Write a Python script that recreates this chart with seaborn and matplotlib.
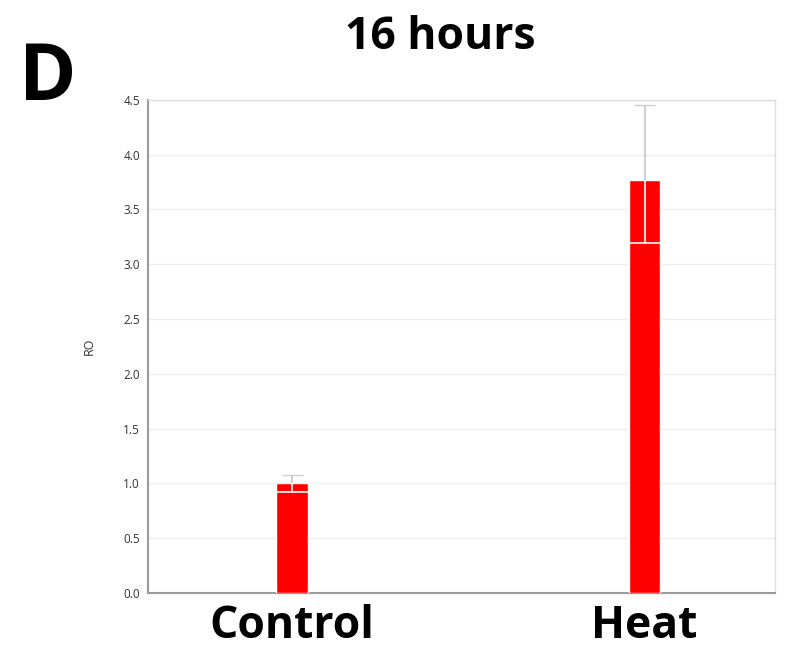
import numpy as np
import pandas as pd
import matplotlib
matplotlib.use("Agg")
import matplotlib.pyplot as plt
import seaborn as sns

# dados
grupos = ["Control", "Heat"]
valores = [1.0, 3.77]
erro_sup = [1.08, 4.45]
erro_inf = [0.92, 3.19]

sns.set_style("white")
plt.rcParams['font.family'] = ['Open Sans', 'DejaVu Sans']
plt.rcParams['text.color'] = 'black'

df = pd.DataFrame({"grupo": grupos, "RO": valores})

fig = plt.figure(figsize=(7.9, 6.52), dpi=100)
ax = fig.add_axes([0.187, 0.0905, 0.794, 0.7565])

sns.barplot(data=df, x="grupo", y="RO", color="#ff0000", saturation=1,
            width=0.09, errorbar=None, ax=ax, zorder=3)

# barras de erro: cinza acima da barra, branco dentro dela
for i, v in enumerate(valores):
    ax.vlines(i, v, erro_sup[i], color="#d0d0d0", lw=1.5, zorder=4)
    ax.hlines(erro_sup[i], i - 0.03, i + 0.03, color="#d0d0d0", lw=1, zorder=4)
    ax.vlines(i, erro_inf[i], v, color="white", lw=1.2, zorder=4)
    ax.hlines(erro_inf[i], i - 0.045, i + 0.045, color="white", lw=1.2, zorder=4)

ax.set_xlim(-0.41, 1.37)
ax.set_ylim(0, 4.5)
ax.set_yticks(np.arange(0, 4.51, 0.5))
ax.set_yticklabels([f"{t:.1f}" for t in np.arange(0, 4.51, 0.5)])
ax.yaxis.grid(True, color="#eeeeee", lw=1, zorder=0)
ax.tick_params(axis="y", labelsize=8.5, labelcolor="#333333", length=2, color="#999999")
ax.tick_params(axis="x", labelsize=32, labelcolor="black", length=0, pad=8)
for lab in ax.get_xticklabels():
    lab.set_fontweight("bold")
ax.set_xlabel("")
ax.set_ylabel("RO", fontsize=9, color="#333333", labelpad=20)

for lado in ["left", "bottom"]:
    ax.spines[lado].set_color("#9a9a9a")
    ax.spines[lado].set_linewidth(1.5)
for lado in ["top", "right"]:
    ax.spines[lado].set_color("#dddddd")
    ax.spines[lado].set_linewidth(1)

fig.text(0.557, 0.942, "16 hours", ha="center", va="center", fontsize=32, fontweight="bold")
fig.text(0.061, 0.878, "D", ha="center", va="center", fontsize=56, fontweight="bold")

fig.savefig("out.png", dpi=100)
